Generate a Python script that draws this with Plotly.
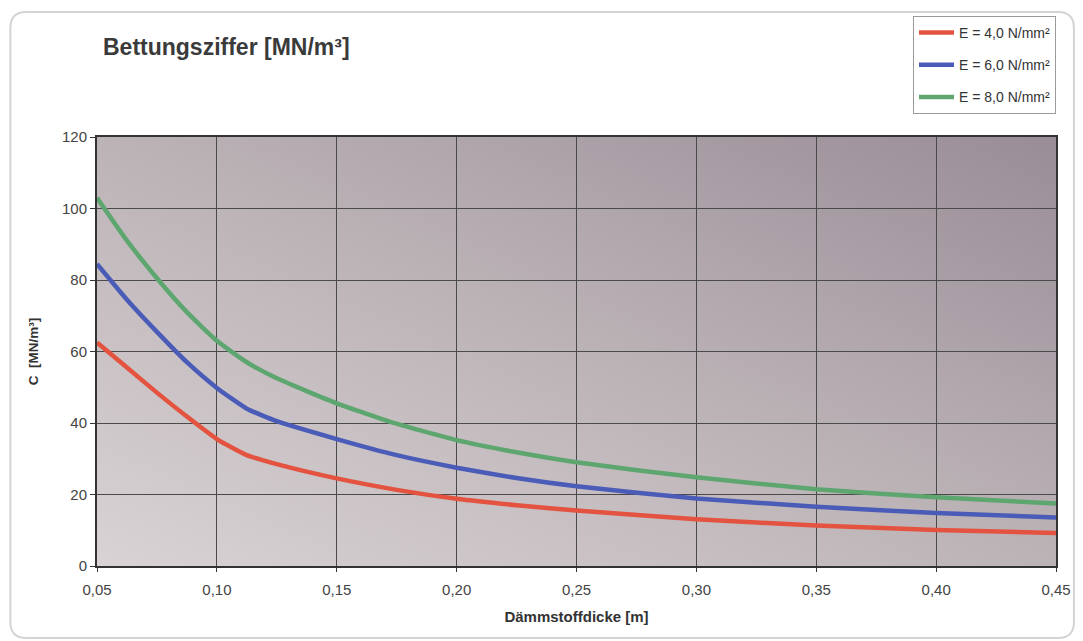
import base64
import plotly.graph_objects as go

x_vals = [0.05, 0.0625, 0.075, 0.0875, 0.10, 0.1125, 0.125, 0.15, 0.175, 0.20, 0.225, 0.25, 0.30, 0.35, 0.40, 0.45]
c_e4 = [62.5, 55.5, 48.5, 41.8, 35.5, 31.0, 28.5, 24.5, 21.3, 18.8, 17.0, 15.5, 13.1, 11.3, 10.1, 9.2]
c_e6 = [84.5, 74.5, 65.5, 57.0, 49.8, 44.0, 40.5, 35.5, 31.0, 27.5, 24.6, 22.3, 18.9, 16.6, 14.8, 13.6]
c_e8 = [103.0, 91.0, 80.5, 71.0, 63.0, 57.0, 52.5, 45.5, 39.8, 35.2, 31.8, 29.0, 24.8, 21.5, 19.2, 17.5]
series_names = ["E = 4,0 N/mm²", "E = 6,0 N/mm²", "E = 8,0 N/mm²"]
series_colors = ["#e4533f", "#4a5cb8", "#5ea66f"]
x_ticks = [0.05, 0.10, 0.15, 0.20, 0.25, 0.30, 0.35, 0.40, 0.45]
x_ticklabels = ["0,05", "0,10", "0,15", "0,20", "0,25", "0,30", "0,35", "0,40", "0,45"]
y_ticks = [0, 20, 40, 60, 80, 100, 120]

W, H = 1083, 641
L, R, T, B = 97, 1060, 137, 566
pw, ph = R - L, B - T

fig = go.Figure()
for i, (name, ys, col) in enumerate(zip(series_names, [c_e4, c_e6, c_e8], series_colors)):
    fig.add_trace(go.Scatter(x=x_vals, y=ys, mode="lines", name=name, legendgroup=f"g{i}",
                             line=dict(color=col, width=4.5, shape="spline", smoothing=0.5)))

svg = ('<svg xmlns="http://www.w3.org/2000/svg" width="100" height="100" preserveAspectRatio="none">'
       '<defs><linearGradient id="g" x1="0" y1="1" x2="1" y2="0">'
       '<stop offset="0" stop-color="#d9d3d5"/><stop offset="0.5" stop-color="#bcb3b7"/>'
       '<stop offset="1" stop-color="#998d97"/></linearGradient></defs>'
       '<rect width="100" height="100" fill="url(#g)"/></svg>')
uri = "data:image/svg+xml;base64," + base64.b64encode(svg.encode()).decode()

fig.add_layout_image(dict(source=uri, xref="x domain", yref="y domain", x=0, y=1,
                          sizex=1, sizey=1, xanchor="left", yanchor="top",
                          sizing="stretch", layer="below"))


def px_x(p):
    return (p - L) / pw


def px_y(p):
    return (B - p) / ph


# outer rounded frame (pixel positions converted to paper coordinates)
fx0, fx1, fy0, fy1, r = 10, 1078, 12, 638, 16
path = (f"M {px_x(fx0 + r)},{px_y(fy0)} L {px_x(fx1 - r)},{px_y(fy0)} "
        f"Q {px_x(fx1)},{px_y(fy0)} {px_x(fx1)},{px_y(fy0 + r)} "
        f"L {px_x(fx1)},{px_y(fy1 - r)} Q {px_x(fx1)},{px_y(fy1)} {px_x(fx1 - r)},{px_y(fy1)} "
        f"L {px_x(fx0 + r)},{px_y(fy1)} Q {px_x(fx0)},{px_y(fy1)} {px_x(fx0)},{px_y(fy1 - r)} "
        f"L {px_x(fx0)},{px_y(fy0 + r)} Q {px_x(fx0)},{px_y(fy0)} {px_x(fx0 + r)},{px_y(fy0)} Z")
fig.add_shape(type="path", xref="paper", yref="paper", layer="below", path=path,
              line=dict(color="#d4d4d4", width=2), fillcolor="rgba(0,0,0,0)")

font = "Liberation Sans, Arial, sans-serif"
fig.update_layout(
    width=W, height=H,
    margin=dict(l=L, r=W - R, t=T, b=H - B),
    paper_bgcolor="white",
    plot_bgcolor="rgba(0,0,0,0)",
    font=dict(family=font, size=14, color="#444444"),
    title=dict(text="<b>Bettungsziffer [MN/m³]</b>", x=103 / W, xanchor="left",
               y=1 - 47 / H, yanchor="middle", font=dict(size=23, color="#3a3a3a", family=font)),
    xaxis=dict(range=[0.05, 0.45], tickvals=x_ticks, ticktext=x_ticklabels,
               showgrid=True, gridcolor="#4a4a4a", gridwidth=1,
               showline=True, linecolor="#333333", linewidth=2, mirror=True,
               ticks="outside", ticklen=4, tickcolor="#333333", zeroline=False,
               ticklabelstandoff=5,
               tickfont=dict(size=15, color="#444444"),
               title=dict(text="<b>Dämmstoffdicke [m]</b>", font=dict(size=15, color="#333333"), standoff=14)),
    yaxis=dict(range=[0, 120], tickvals=y_ticks, showgrid=True, gridcolor="#4a4a4a", gridwidth=1,
               showline=True, linecolor="#333333", linewidth=2, mirror=True,
               ticks="outside", ticklen=5, tickcolor="#333333", zeroline=False,
               tickfont=dict(size=15, color="#444444"),
               title=dict(text="<b>C  [MN/m³]</b>", font=dict(size=13.5, color="#333333"), standoff=20)),
    legend=dict(x=px_x(1060), y=px_y(16), xref="paper", yref="paper",
                xanchor="right", yanchor="top",
                bgcolor="white", bordercolor="#9a9a9a", borderwidth=1,
                font=dict(size=14, color="#333333", family=font),
                itemwidth=35, tracegroupgap=11),
    showlegend=True,
)

fig.write_html("out.html")
